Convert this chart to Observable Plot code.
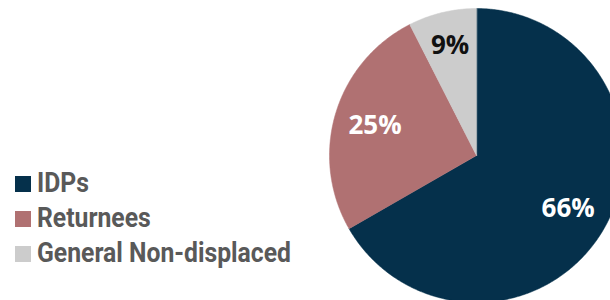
<!DOCTYPE html>
<html>
<head>
<meta charset="utf-8">
<script src="https://cdn.jsdelivr.net/npm/d3@7"></script>
<script src="https://cdn.jsdelivr.net/npm/@observablehq/plot@0.6"></script>
<style>
  html, body { margin: 0; padding: 0; background: #fff; overflow: hidden; width: 610px; height: 300px; }
  #wrap { position: relative; width: 610px; height: 300px; }
  #chart { position: absolute; left: 0; top: 0; }
  .legend { position: absolute; left: 0; top: 0; font-family: Roboto, sans-serif; font-weight: 700; color: #595959; }
  .row { position: absolute; left: 15px; height: 16px; }
  .sw { position: absolute; left: 0; top: 0; width: 16px; height: 16px; }
  .lab { position: absolute; left: 22px; white-space: nowrap; font-size: 27px; line-height: 1; transform-origin: 0 0; }
</style>
</head>
<body>
<div id="wrap">
  <div id="chart"></div>
  <div class="legend" id="legend"></div>
</div>
<script>
const categories = ["IDPs", "Returnees", "General Non-displaced"];
const shares = [66.7, 25.8, 7.5];
const labels = ["66%", "25%", "9%"];
const colors = ["#05304B", "#B07172", "#CCCCCC"];
const labelColors = ["#ffffff", "#ffffff", "#111111"];

const data = categories.map((c, i) => ({category: c, value: shares[i], label: labels[i]}));
const arcs = d3.pie().sort(null).value(d => d.value).startAngle(0).endAngle(2 * Math.PI)(data);

// polygon outline of each slice on the unit circle (y up)
const outline = [];
for (const a of arcs) {
  outline.push({category: a.data.category, x: 0, y: 0});
  const n = Math.max(2, Math.ceil((a.endAngle - a.startAngle) / (Math.PI / 360)));
  for (let k = 0; k <= n; k++) {
    const t = a.startAngle + (a.endAngle - a.startAngle) * k / n;
    outline.push({category: a.data.category, x: Math.sin(t), y: Math.cos(t)});
  }
}
const labelPts = arcs.map(a => {
  const m = (a.startAngle + a.endAngle) / 2;
  const r = a.data.value < 10 ? 0.77 : 0.72;
  return {category: a.data.category, label: a.data.label, x: r * Math.sin(m), y: r * Math.cos(m)};
});

const chart = Plot.plot({
  width: 610,
  height: 300,
  margin: 0,
  style: {background: "transparent", overflow: "visible"},
  x: {type: "linear", domain: [-1, 1], range: [329, 623], axis: null},
  y: {type: "linear", domain: [-1, 1], range: [302, 8], axis: null},
  color: {domain: categories, range: colors},
  marks: [
    Plot.line(outline, {x: "x", y: "y", z: "category", fill: "category", stroke: "category", strokeWidth: 0.5, curve: "linear-closed"}),
    Plot.text(labelPts, {
      x: "x", y: "y", text: "label",
      fill: d => labelColors[categories.indexOf(d.category)],
      fontSize: 26, fontWeight: 700, fontFamily: "Open Sans",
      textAnchor: "middle", lineAnchor: "middle"
    })
  ]
});
document.getElementById("chart").appendChild(chart);

// legend
const legend = document.getElementById("legend");
const tops = [176, 211, 246];
const widths = [null, null, 254];
categories.forEach((c, i) => {
  const row = document.createElement("div");
  row.className = "row";
  row.style.top = tops[i] + "px";
  const sw = document.createElement("div");
  sw.className = "sw";
  sw.style.background = colors[i];
  const lab = document.createElement("div");
  lab.className = "lab";
  lab.textContent = c;
  lab.style.top = "-6px";
  row.appendChild(sw);
  row.appendChild(lab);
  legend.appendChild(row);
});
// condense text to match narrow face: scale so longest label spans 254px
const labs = legend.querySelectorAll(".lab");
const longest = labs[2].getBoundingClientRect().width;
const s = 254 / longest;
labs.forEach(l => { l.style.transform = `scaleX(${s})`; });
</script>
</body>
</html>
